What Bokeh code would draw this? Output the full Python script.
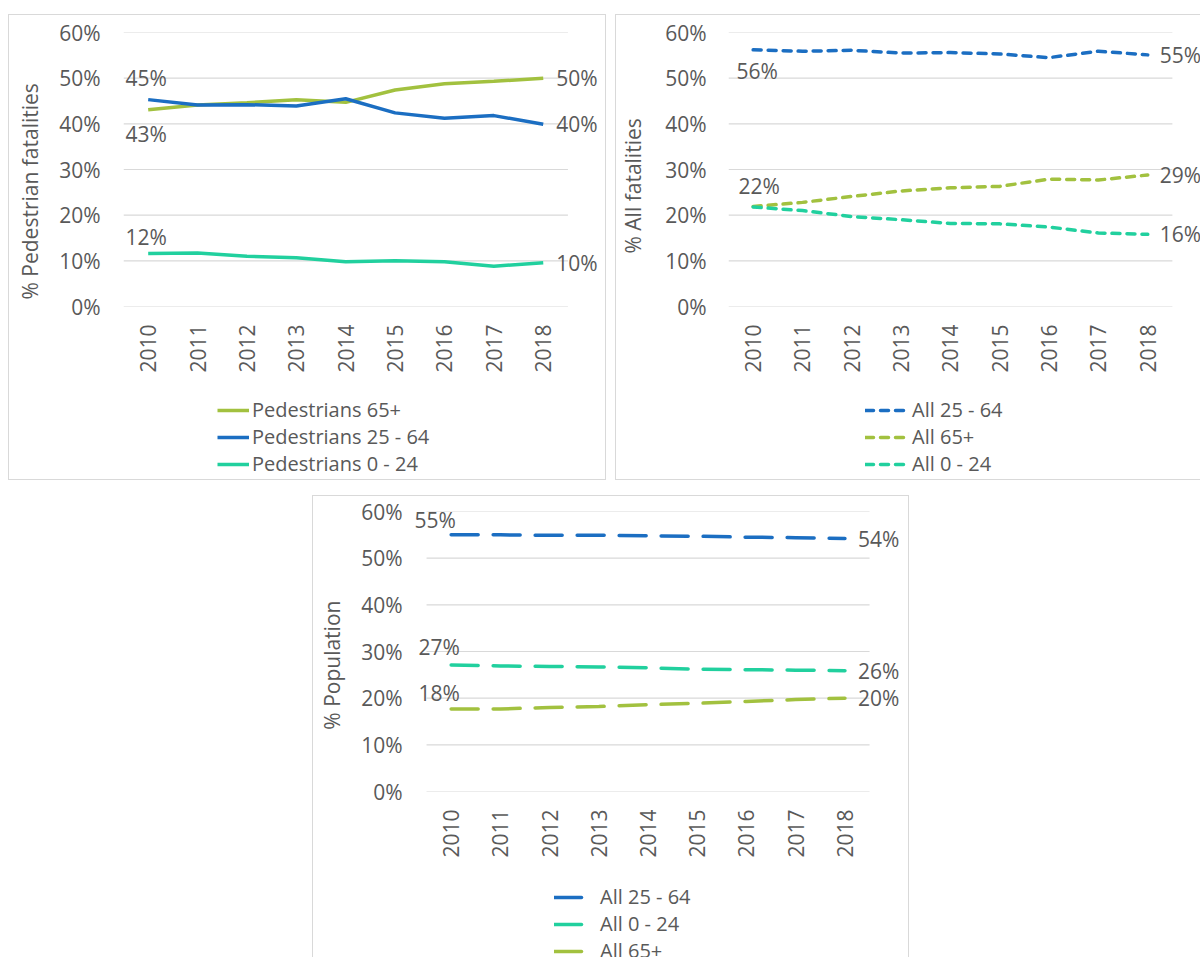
from math import pi

from bokeh.embed import file_html
from bokeh.layouts import column, row
from bokeh.models import (FixedTicker, Label, Legend, LegendItem,
                          PrintfTickFormatter, Range1d)
from bokeh.plotting import figure
from bokeh.resources import INLINE

# ---- data (percent of total) -------------------------------------------
YEARS = [2010, 2011, 2012, 2013, 2014, 2015, 2016, 2017, 2018]
Y_TICKS = [0, 10, 20, 30, 40, 50, 60]

ped_65_plus = [43.1, 44.1, 44.6, 45.3, 44.7, 47.4, 48.8, 49.3, 50.0]
ped_25_64 = [45.3, 44.1, 44.2, 43.9, 45.5, 42.4, 41.2, 41.8, 39.9]
ped_0_24 = [11.6, 11.7, 11.0, 10.7, 9.8, 10.0, 9.8, 8.8, 9.6]

all_25_64 = [56.2, 55.9, 56.1, 55.5, 55.6, 55.3, 54.5, 55.9, 55.1]
all_65_plus = [21.9, 22.8, 24.1, 25.3, 26.0, 26.3, 27.9, 27.7, 28.8]
all_0_24 = [21.8, 21.0, 19.7, 19.0, 18.2, 18.1, 17.4, 16.1, 15.8]

pop_25_64 = [55.0, 55.0, 54.9, 54.9, 54.8, 54.7, 54.5, 54.4, 54.2]
pop_0_24 = [27.1, 26.9, 26.8, 26.7, 26.5, 26.2, 26.1, 26.0, 25.9]
pop_65_plus = [17.7, 17.7, 18.0, 18.2, 18.6, 18.9, 19.3, 19.7, 20.0]

# ---- styling -----------------------------------------------------------
GREEN = "#a2c13f"
BLUE = "#1b6ec2"
TEAL = "#21d09e"
TEXT = "#595959"
GRID = "#d9d9d9"
FONT = "Open Sans"
FS = "21px"
LEG_FS = "20px"
NBSP = "\u00a0"
LW = 3.5
SOLID = "solid"
DASH_ALL = "8 7"
DASH_POP = "27 15"


def box_css(*sides):
    css = {f"border-{s}": f"1px solid {GRID}" for s in sides}
    css["box-sizing"] = "border-box"
    return css


def make_panel(width, height, mb, css, x_span, ytitle, tick_standoff,
               title_standoff):
    p = figure(width=width, height=height, output_backend="svg",
               toolbar_location=None,
               x_range=Range1d(*x_span), y_range=Range1d(0, 60),
               min_border_left=mb[0], min_border_right=mb[1],
               min_border_top=mb[2], min_border_bottom=mb[3],
               styles=css)
    p.outline_line_color = None
    p.background_fill_color = "white"
    p.border_fill_color = "white"
    p.grid.grid_line_color = None

    # horizontal gridlines spanning the year band only
    p.segment(x0=YEARS[0] - 0.5, x1=YEARS[-1] + 0.5, y0=Y_TICKS, y1=Y_TICKS,
              line_color=GRID, line_width=1.2)

    for ax in (p.xaxis, p.yaxis):
        ax.axis_line_color = None
        ax.major_tick_line_color = None
        ax.minor_tick_line_color = None
        ax.major_tick_out = 0
        ax.major_tick_in = 0
        ax.major_label_text_font = FONT
        ax.major_label_text_font_size = FS
        ax.major_label_text_color = TEXT

    p.xaxis.ticker = FixedTicker(ticks=YEARS)
    p.xaxis.major_label_orientation = pi / 2
    p.xaxis.major_label_standoff = 18

    p.yaxis.ticker = FixedTicker(ticks=Y_TICKS)
    p.yaxis.formatter = PrintfTickFormatter(format="%d%%")
    p.yaxis.major_label_standoff = tick_standoff
    p.yaxis.axis_label = ytitle
    p.yaxis.axis_label_text_font = FONT
    p.yaxis.axis_label_text_font_size = FS
    p.yaxis.axis_label_text_font_style = "normal"
    p.yaxis.axis_label_text_color = TEXT
    p.yaxis.axis_label_standoff = title_standoff
    return p


def draw_series(p, specs):
    for _, ys, color, dash in specs:
        cap = "butt" if dash == SOLID else "round"
        p.line(YEARS, ys, line_color=color, line_width=LW, line_dash=dash,
               line_cap=cap)


def value_label(p, x, y, where, dy=0, dx=0):
    """Data label next to a point: 'above', 'below' or 'right'."""
    opts = dict(x=x, y=y, text=f"{y:.0f}%", text_font=FONT,
                text_font_size=FS, text_color=TEXT)
    if where in ("above", "below"):
        opts.update(text_align="center", text_baseline="alphabetic",
                    y_offset=dy, x_offset=dx)
    else:
        opts.update(text_align="left", text_baseline="middle",
                    x_offset=dx or 13)
    p.add_layout(Label(**opts))


def legend_box(width, height, css, specs, loc, glyph_w, standoff):
    f = figure(width=width, height=height, output_backend="svg",
               toolbar_location=None, x_range=Range1d(0, 1),
               y_range=Range1d(0, 1), x_axis_location=None,
               y_axis_location=None, min_border=0, styles=css)
    f.outline_line_color = None
    f.background_fill_color = "white"
    f.border_fill_color = "white"
    f.grid.visible = False
    items = []
    for label, ys, color, dash in specs:
        cap = "butt" if dash == SOLID else "round"
        r = f.line(YEARS, ys, line_color=color, line_width=LW,
                   line_dash=dash, line_cap=cap, visible=False)
        items.append(LegendItem(label=label, renderers=[r]))
    f.add_layout(Legend(items=items, location=loc, orientation="vertical",
                        label_text_font=FONT, label_text_font_size=LEG_FS,
                        label_text_color=TEXT, glyph_width=glyph_w,
                        glyph_height=26, label_height=26, spacing=0,
                        padding=0, margin=0, label_standoff=standoff,
                        border_line_color=None, background_fill_alpha=0))
    return f


# ---- panel 1: pedestrian fatalities --------------------------------------
ped_specs = [("Pedestrians 65+", ped_65_plus, GREEN, SOLID),
             ("Pedestrians 25 - 64", ped_25_64, BLUE, SOLID),
             ("Pedestrians 0 - 24", ped_0_24, TEAL, SOLID)]
p1 = make_panel(598, 370, (114, 5, 17, 79), box_css("top", "left", "right"),
                (2009.5, 2019.2), "% Pedestrian fatalities" + NBSP * 8,
                23, 12)
draw_series(p1, ped_specs)
value_label(p1, YEARS[0], ped_25_64[0], "above", 22, -2)
value_label(p1, YEARS[0], ped_65_plus[0], "below", -24, -2)
value_label(p1, YEARS[0], ped_0_24[0], "above", 17, -2)
value_label(p1, YEARS[-1], ped_65_plus[-1], "right")
value_label(p1, YEARS[-1], ped_25_64[-1], "right")
value_label(p1, YEARS[-1], ped_0_24[-1], "right")
l1 = legend_box(598, 96, box_css("left", "right", "bottom"), ped_specs,
                (94, 3), 32, 3)

# ---- panel 2: all fatalities ---------------------------------------------
all_specs = [("All 25 - 64", all_25_64, BLUE, DASH_ALL),
             ("All 65+", all_65_plus, GREEN, DASH_ALL),
             ("All 0 - 24", all_0_24, TEAL, DASH_ALL)]
p2 = make_panel(585, 370, (112, 0, 17, 79), box_css("top", "left"),
                (2009.5, 2019.09), "% All fatalities" + NBSP * 6, 22, 15)
draw_series(p2, all_specs)
value_label(p2, YEARS[0], all_25_64[0], "below", -21, 4)
value_label(p2, YEARS[0], all_65_plus[0], "above", 20, 6)
value_label(p2, YEARS[-1], all_25_64[-1], "right", dx=12)
value_label(p2, YEARS[-1], all_65_plus[-1], "right", dx=12)
value_label(p2, YEARS[-1], all_0_24[-1], "right", dx=12)
l2 = legend_box(585, 96, box_css("left", "bottom"), all_specs,
                (137, 3), 41, 6)

# ---- panel 3: population ---------------------------------------------------
pop_specs = [("All 25 - 64", pop_25_64, BLUE, DASH_POP),
             ("All 0 - 24", pop_0_24, TEAL, DASH_POP),
             ("All 65+", pop_65_plus, GREEN, DASH_POP)]
p3 = make_panel(597, 371, (100, 6, 15, 76), box_css("top", "left", "right"),
                (2009.235, 2019.21), "% Population" + NBSP * 5, 11, 12)
draw_series(p3, pop_specs)
value_label(p3, YEARS[0], pop_25_64[0], "above", 15, -16)
value_label(p3, YEARS[0], pop_0_24[0], "above", 18, -12)
value_label(p3, YEARS[0], pop_65_plus[0], "above", 16, -12)
value_label(p3, YEARS[-1], pop_25_64[-1], "right")
value_label(p3, YEARS[-1], pop_0_24[-1], "right")
value_label(p3, YEARS[-1], pop_65_plus[-1], "right")
l3 = legend_box(597, 91, box_css("left", "right"), pop_specs,
                (141, -7), 30, 16)

c1 = column(p1, l1, spacing=0)
c2 = column(p2, l2, spacing=0)
c3 = column(p3, l3, spacing=0)
c1.margin = (14, 0, 0, 8)
c2.margin = (14, 0, 0, 9)
c3.margin = (15, 0, 0, 312)

page = column(row(c1, c2, spacing=0), c3, spacing=0)

with open("out.html", "w") as f:
    f.write(file_html(page, INLINE))
